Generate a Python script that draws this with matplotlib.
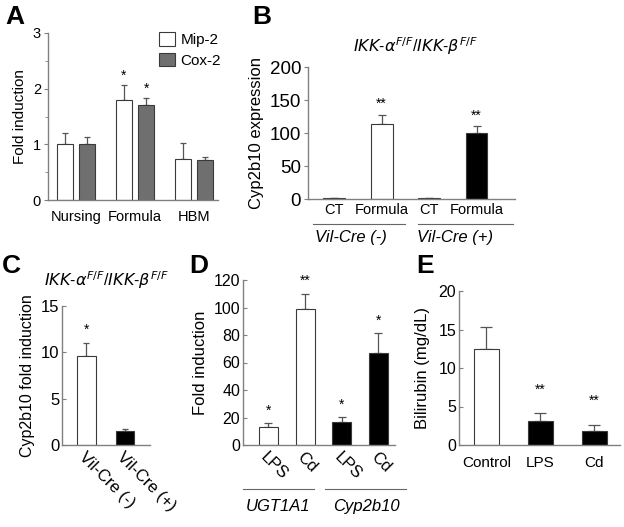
import matplotlib

matplotlib.use("Agg")
import matplotlib.pyplot as plt
import numpy as np
from matplotlib.patches import Patch

plt.rcParams["font.family"] = ["Liberation Sans", "DejaVu Sans"]

# Panel A
a_groups = ["Nursing", "Formula", "HBM"]
a_mip2 = [1.0, 1.8, 0.73]
a_mip2_err = [0.2, 0.27, 0.29]
a_cox2 = [1.0, 1.7, 0.71]
a_cox2_err = [0.13, 0.14, 0.07]
a_stars = ["", "*", ""]

# Panel B
b_labels = ["CT", "Formula", "CT", "Formula"]
b_values = [1.0, 113.5, 1.0, 100.5]
b_err = [0, 14, 0, 9.5]
b_stars = ["", "**", "", "**"]
b_groups = ["Vil-Cre (-)", "Vil-Cre (+)"]

# Panel C
c_labels = ["Vil-Cre (-)", "Vil-Cre (+)"]
c_values = [9.6, 1.55]
c_err = [1.45, 0.15]
c_stars = ["*", ""]

# Panel D
d_labels = ["LPS", "Cd", "LPS", "Cd"]
d_values = [13.3, 99.0, 17.0, 66.8]
d_err = [2.7, 11.0, 3.4, 14.5]
d_stars = ["*", "**", "*", "*"]
d_groups = ["UGT1A1", "Cyp2b10"]

# Panel E
e_labels = ["Control", "LPS", "Cd"]
e_values = [12.5, 3.15, 1.87]
e_err = [2.8, 0.95, 0.7]
e_stars = ["", "**", "**"]

TITLE = r"$\it{IKK}$-$\it{\alpha}^{\it{F/F}}$/$\it{IKK}$-$\it{\beta}^{\it{F/F}}$"
SPINE = "#808080"
EDGE = "#3a3a3a"
ERR = "#555555"

W, H = 624, 527
fig = plt.figure(figsize=(W / 100, H / 100), dpi=100, facecolor="white")


def add_ax(x0, y0, x1, y1):
    # pixel box -> figure fraction
    return fig.add_axes([x0 / W, 1 - y1 / H, (x1 - x0) / W, (y1 - y0) / H])


def style(ax, fs, xpad=3):
    for s in ("top", "right"):
        ax.spines[s].set_visible(False)
    for s in ("left", "bottom"):
        ax.spines[s].set_color(SPINE)
        ax.spines[s].set_linewidth(1.0)
    ax.tick_params(axis="y", length=3, width=0.8, color=SPINE, labelsize=fs, pad=2)
    ax.tick_params(axis="x", length=0, labelsize=fs, pad=xpad)


def bars(ax, x, vals, errs, colors, width, capsize, stars, star_off, star_fs):
    ax.bar(x, vals, width=width, color=colors, edgecolor=EDGE, linewidth=0.8, zorder=2)
    ax.errorbar(x, vals, yerr=[np.zeros(len(vals)), errs], fmt="none", ecolor=ERR,
                elinewidth=0.9, capsize=capsize, capthick=0.9, zorder=1)
    for xi, v, e, s in zip(x, vals, errs, stars):
        if s:
            ax.text(xi, v + e + star_off, s, ha="center", va="bottom", fontsize=star_fs)


def group_lines(ax, spans, labels, y_line, y_text, centers, fs):
    for (g0, g1), lab, cx in zip(spans, labels, centers):
        ax.plot([g0, g1], [y_line, y_line], transform=ax.transAxes, color="#666666",
                lw=0.8, clip_on=False)
        ax.text(cx, y_text, lab, transform=ax.transAxes, ha="center", va="center",
                fontsize=fs, style="italic")


# ---- A
ax = add_ax(48, 33, 218, 200)
style(ax, 10.5, xpad=7)
xa = np.arange(len(a_groups))
bars(ax, xa - 0.19, a_mip2, a_mip2_err, "white", 0.27, 2, a_stars, 0.04, 10)
bars(ax, xa + 0.19, a_cox2, a_cox2_err, "#6f6f6f", 0.27, 2, a_stars, 0.04, 10)
ax.set_xlim(-0.475, 2.41)
ax.set_ylim(0, 3)
ax.set_yticks([0, 1, 2, 3])
ax.set_yticks([0.5, 1.5, 2.5], minor=True)
ax.tick_params(axis="y", which="minor", length=2, color=SPINE)
ax.set_xticks(xa)
ax.set_xticklabels(a_groups)
ax.set_ylabel("Fold induction", fontsize=11, labelpad=4)
ax.legend(handles=[Patch(facecolor="white", edgecolor=EDGE, lw=0.8, label="Mip-2"),
                   Patch(facecolor="#6f6f6f", edgecolor=EDGE, lw=0.8, label="Cox-2")],
          loc="upper left", bbox_to_anchor=(0.61, 1.05), frameon=False, fontsize=11,
          handlelength=1.0, handleheight=1.0, handletextpad=0.4, labelspacing=0.35,
          borderpad=0)

# ---- B
ax = add_ax(308, 67, 515, 199)
style(ax, 13.5)
xb = np.arange(len(b_labels))
bars(ax, xb, b_values, b_err, ["white", "white", "black", "black"], 0.46, 3,
     b_stars, 6, 10)
ax.set_xlim(-0.55, 3.81)
ax.set_ylim(0, 200)
ax.set_yticks([0, 50, 100, 150, 200])
ax.set_xticks(xb)
ax.set_xticklabels(b_labels, fontsize=10.5)
ax.set_ylabel("Cyp2b10 expression", fontsize=12, labelpad=4)
ax.text(0.517, 1.16, TITLE, transform=ax.transAxes, ha="center", va="center", fontsize=11.5)
group_lines(ax, [(0.024, 0.469), (0.531, 0.99)], b_groups, -0.19, -0.29,
            [0.205, 0.71], 12)

# ---- C
ax = add_ax(62, 306, 150, 445)
style(ax, 12)
xc = np.arange(len(c_labels))
bars(ax, xc, c_values, c_err, ["white", "black"], 0.49, 2.5, c_stars, 0.6, 10)
ax.set_xlim(-0.636, 1.65)
ax.set_ylim(0, 15)
ax.set_yticks([0, 5, 10, 15])
ax.tick_params(axis="y", direction="in")
ax.set_xticks(xc)
ax.set_xticklabels(c_labels, rotation=-45, ha="left", va="top",
                   rotation_mode="anchor", fontsize=12)
ax.set_ylabel("Cyp2b10 fold induction", fontsize=11.5, labelpad=4)
ax.text(0.51, 1.187, TITLE, transform=ax.transAxes, ha="center", va="center", fontsize=11.5)

# ---- D
ax = add_ax(243, 280, 395, 445)
style(ax, 11.5)
xd = np.arange(len(d_labels))
bars(ax, xd, d_values, d_err, ["white", "white", "black", "black"], 0.52, 3,
     d_stars, 4, 10)
ax.set_xlim(-0.69, 3.45)
ax.set_ylim(0, 120)
ax.set_yticks(np.arange(0, 121, 20))
ax.tick_params(axis="y", direction="in")
ax.set_xticks(xd)
ax.set_xticklabels(d_labels, rotation=-45, ha="left", va="top",
                   rotation_mode="anchor", fontsize=12)
ax.set_ylabel("Fold induction", fontsize=12, labelpad=4)
group_lines(ax, [(0.0, 0.47), (0.54, 1.07)], d_groups, -0.267, -0.37,
            [0.23, 0.815], 12)

# ---- E
ax = add_ax(459, 291, 620, 445)
style(ax, 11.5, xpad=8)
xe = np.arange(len(e_labels))
bars(ax, xe, e_values, e_err, ["white", "black", "black"], 0.47, 4, e_stars, 2.2, 10)
ax.set_xlim(-0.51, 2.48)
ax.set_ylim(0, 20)
ax.set_yticks([0, 5, 10, 15, 20])
ax.tick_params(axis="y", direction="in")
ax.set_xticks(xe)
ax.set_xticklabels(e_labels, fontsize=11)
ax.set_ylabel("Bilirubin (mg/dL)", fontsize=12, labelpad=6)

# panel letters
for lab, (px, py) in {"A": (15, 17), "B": (262, 17), "C": (11, 266),
                      "D": (199, 266), "E": (425, 266)}.items():
    fig.text(px / W, 1 - py / H, lab, fontsize=19, fontweight="bold",
             ha="center", va="center")

fig.savefig("out.png", dpi=100, facecolor="white")
